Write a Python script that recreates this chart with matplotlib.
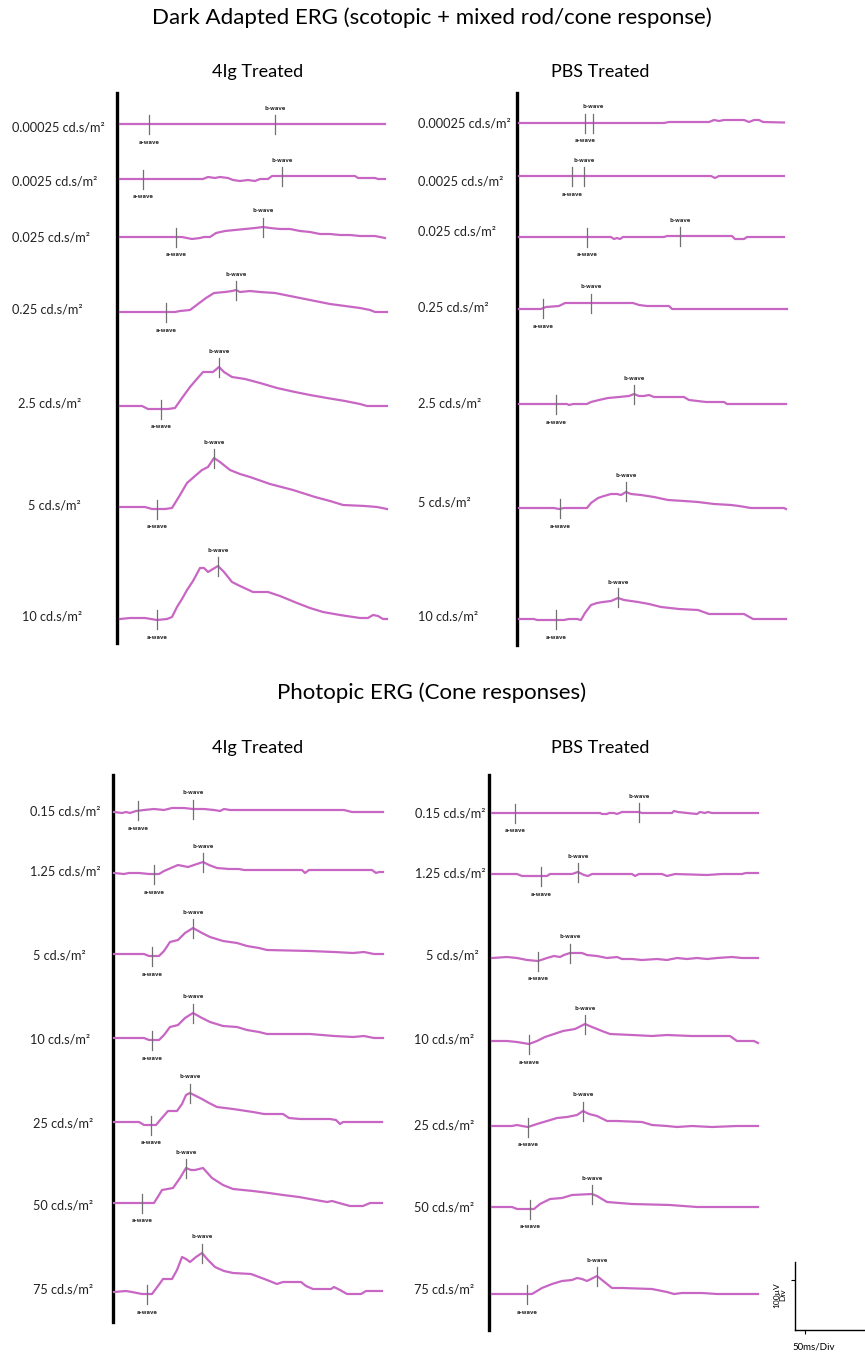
import numpy as np
import matplotlib
matplotlib.use("Agg")
import matplotlib.pyplot as plt

W, H = 865, 1357
TRACE = "#c866c4"
FONT = "Lato"

# ---- data: keypoints (time ms, amplitude uV) ----
scot_levels = ["0.00025", "0.0025", "0.025", "0.25", "2.5", "5", "10"]
phot_levels = ["0.15", "1.25", "5", "10", "25", "50", "75"]

scot_4ig = [
    [(0, 0), (265, 0)],
    [(0, 0), (83, 0), (88, 4), (95, 2), (100, 4), (108, 2), (113, -2), (120, -4), (128, -2), (135, -4),
     (140, 0), (148, 0), (152, 6), (235, 6), (238, 2), (255, 2), (258, 0), (265, 0)],
    [(0, 0), (62, 0), (72, -4), (80, -2), (84, 0), (90, 0), (96, 8), (105, 12), (115, 14), (125, 16),
     (135, 18), (143, 20), (150, 18), (160, 16), (170, 16), (180, 12), (190, 10), (200, 6), (210, 6),
     (220, 4), (230, 4), (240, 2), (255, 2), (265, -2)],
    [(0, 0), (55, 0), (60, 2), (70, 4), (78, 16), (86, 28), (94, 38), (105, 40), (112, 42), (116, 44),
     (120, 40), (130, 42), (140, 40), (155, 38), (165, 34), (180, 28), (195, 22), (210, 16), (225, 12),
     (240, 8), (250, 4), (255, 0), (267, 0)],
    [(0, 0), (22, 0), (28, -6), (48, -6), (55, -4), (62, 16), (70, 38), (76, 52), (83, 68), (93, 68),
     (99, 78), (104, 68), (112, 58), (125, 54), (140, 46), (157, 36), (175, 28), (190, 22), (207, 16),
     (225, 10), (240, 4), (247, 0), (267, 0)],
    [(0, 0), (25, 0), (32, -4), (45, -4), (52, -2), (60, 24), (67, 48), (75, 62), (82, 74), (88, 80),
     (94, 98), (100, 90), (110, 74), (120, 66), (130, 60), (150, 46), (173, 34), (195, 20), (210, 12),
     (223, 4), (245, 2), (257, 0), (267, -4)],
    [(0, 0), (10, 2), (25, 2), (37, -2), (47, 0), (52, 4), (57, 24), (62, 40), (67, 58), (73, 76),
     (80, 102), (84, 102), (88, 94), (93, 100), (98, 106), (104, 94), (112, 74), (120, 66), (133, 54),
     (148, 54), (160, 46), (177, 32), (190, 22), (203, 14), (220, 8), (240, 2), (248, 2), (253, 8),
     (258, 6), (263, 0), (267, 0)],
]
scot_4ig_a = [29, 23, 56, 46, 41, 37, 37]
scot_4ig_b = [155, 162, 143, 116, 99, 94, 98]

scot_pbs = [
    [(0, 0), (145, 0), (150, 2), (190, 2), (195, 6), (200, 4), (205, 6), (225, 6), (230, 2), (235, 6),
     (240, 6), (244, 2), (265, 1)],
    [(0, 0), (192, 0), (196, -4), (200, 0), (265, 0)],
    [(0, 0), (92, 0), (95, -4), (98, -2), (101, -4), (104, 0), (145, 0), (148, 2), (213, 2), (216, -4),
     (225, -4), (228, 0), (265, 0)],
    [(0, 0), (22, 0), (27, 4), (40, 6), (46, 12), (114, 12), (120, 8), (128, 6), (150, 6), (153, 0),
     (268, 0)],
    [(0, 0), (48, 0), (50, -2), (54, 0), (68, 0), (72, 4), (80, 8), (89, 12), (100, 14), (110, 16),
     (115, 20), (120, 16), (125, 16), (130, 18), (135, 14), (165, 14), (170, 8), (187, 4), (205, 4),
     (208, 0), (267, 0)],
    [(0, 0), (35, 0), (40, -2), (45, 0), (68, 0), (72, 10), (79, 20), (85, 24), (92, 28), (98, 28),
     (102, 26), (107, 32), (112, 28), (122, 26), (135, 22), (149, 16), (165, 14), (179, 12), (195, 8),
     (212, 6), (220, 4), (232, 0), (265, 0), (267, -2)],
    [(0, 0), (15, 0), (18, -2), (45, -2), (50, 0), (58, 0), (62, -2), (66, 12), (72, 28), (78, 32),
     (84, 34), (92, 36), (99, 42), (105, 38), (119, 34), (130, 30), (142, 24), (160, 20), (179, 18),
     (190, 10), (225, 10), (234, 0), (267, 0)],
]
scot_pbs_a = [66, 53, 68, 24, 37, 41, 37]
scot_pbs_b = [74, 65, 161, 72, 115, 107, 99]

phot_4ig = [
    [(0, 0), (8, -2), (12, 0), (16, -2), (22, 2), (30, 4), (40, 6), (50, 4), (58, 8), (70, 8), (79, 6),
     (90, 6), (100, 4), (106, 2), (110, 6), (116, 4), (230, 4), (238, 0), (269, 0)],
    [(0, 0), (10, -2), (15, 0), (25, 0), (35, -2), (45, -2), (50, 4), (57, 10), (64, 16), (69, 14),
     (74, 12), (80, 16), (89, 22), (95, 16), (103, 10), (115, 8), (125, 8), (130, 6), (188, 6), (191, 0),
     (195, 6), (258, 6), (262, 0), (265, 2), (269, 2)],
    [(0, 0), (30, 0), (35, -4), (45, -4), (50, 6), (56, 24), (64, 28), (71, 42), (79, 52), (88, 42),
     (96, 34), (109, 26), (123, 22), (133, 16), (145, 12), (153, 8), (196, 6), (220, 4), (239, 2),
     (250, 4), (260, 0), (269, 0)],
    [(0, 0), (30, 0), (35, -4), (45, -4), (50, 6), (56, 22), (64, 26), (71, 40), (79, 50), (88, 40),
     (96, 32), (109, 24), (123, 22), (133, 16), (145, 12), (153, 8), (196, 8), (220, 4), (239, 2),
     (250, 4), (260, 0), (269, 0)],
    [(0, 0), (25, 0), (30, -6), (42, -6), (47, 6), (54, 22), (63, 22), (68, 36), (72, 54), (76, 58),
     (82, 52), (88, 46), (95, 38), (103, 30), (119, 26), (139, 20), (150, 16), (169, 16), (175, 8),
     (186, 6), (216, 6), (222, 4), (226, -4), (229, 0), (268, 0)],
    [(0, 0), (40, 0), (45, 16), (48, 26), (59, 30), (66, 50), (72, 70), (77, 66), (81, 66), (89, 70),
     (98, 50), (109, 36), (119, 28), (139, 24), (155, 20), (169, 16), (185, 12), (196, 8), (213, 2),
     (218, 4), (225, 0), (236, -6), (249, -6), (256, 0), (268, 0)],
    [(0, 0), (12, 2), (18, 0), (28, -4), (38, -4), (44, 12), (49, 26), (58, 26), (63, 44), (68, 70),
     (72, 66), (76, 60), (82, 70), (88, 78), (94, 64), (101, 50), (110, 42), (119, 38), (137, 36),
     (145, 30), (153, 24), (163, 16), (169, 20), (187, 20), (192, 12), (199, 6), (217, 6), (220, 10),
     (226, 4), (233, -4), (247, -4), (252, 2), (268, 2)],
]
phot_4ig_a = [24, 40, 38, 38, 37, 28, 33]
phot_4ig_b = [79, 89, 79, 79, 76, 72, 88]

phot_pbs = [
    [(0, 0), (108, 0), (110, -2), (115, -2), (117, 0), (122, 0), (125, -2), (130, 2), (147, 2), (150, 0),
     (180, 0), (182, 4), (186, 2), (195, 0), (205, -2), (208, 2), (213, 0), (216, 2), (220, 0), (266, 0)],
    [(0, 0), (25, 0), (30, -4), (55, -4), (58, 0), (80, 0), (86, 4), (92, -2), (96, -4), (100, 0),
     (140, 0), (143, -4), (147, 0), (170, 0), (175, -4), (183, 0), (215, -2), (230, 0), (250, 0),
     (254, 2), (266, 2)],
    [(0, 0), (15, 2), (25, 0), (35, -4), (46, -6), (55, 0), (62, 4), (68, 2), (72, 6), (78, 10), (90, 10),
     (95, 6), (105, 4), (115, 0), (125, 2), (130, -2), (140, -2), (150, -4), (165, -2), (175, -4),
     (185, 0), (195, -2), (205, 0), (215, -2), (225, 0), (240, 2), (250, 0), (266, 0)],
    [(0, 0), (15, 0), (25, -2), (37, -6), (45, 0), (53, 8), (62, 14), (71, 20), (83, 24), (93, 34),
     (100, 28), (110, 20), (118, 14), (140, 12), (160, 10), (175, 12), (200, 10), (238, 10), (245, 0),
     (262, 0), (266, -4)],
    [(0, 0), (20, 0), (25, 2), (30, 0), (36, -2), (45, 4), (55, 10), (65, 16), (75, 18), (85, 22),
     (91, 30), (97, 24), (105, 20), (115, 10), (125, 10), (150, 8), (160, 2), (175, 0), (185, -2),
     (200, 0), (220, -2), (245, 0), (266, 0)],
    [(0, 0), (20, 0), (25, -4), (42, -4), (48, 6), (58, 16), (70, 18), (80, 24), (100, 26), (105, 22),
     (115, 10), (140, 6), (178, 4), (205, 0), (266, 0)],
    [(0, 0), (40, 0), (50, 12), (60, 20), (70, 26), (80, 28), (85, 32), (90, 30), (95, 26), (105, 36),
     (110, 28), (120, 12), (130, 12), (160, 10), (175, 4), (182, 0), (190, 2), (210, 2), (225, 0),
     (266, 0)],
]
phot_pbs_a = [23, 49, 46, 37, 36, 38, 35]
phot_pbs_b = [147, 86, 78, 93, 91, 100, 105]

# ---- layout (pixels in the 865x1357 image) ----
panels = [
    # traces, a, b, levels, trace x0, vline x, vline top/bottom, baselines, label x, label y
    (scot_4ig, scot_4ig_a, scot_4ig_b, scot_levels, 120, 117, 93, 643,
     [124, 179, 237, 312, 406, 507, 619], [12, 12, 12, 12, 18, 28, 22], [127, 182, 238, 310, 403, 505, 616]),
    (scot_pbs, scot_pbs_a, scot_pbs_b, scot_levels, 519, 517, 93, 645,
     [123, 176, 237, 309, 404, 508, 619], [418] * 7, [124, 182, 232, 307, 403, 503, 616]),
    (phot_4ig, phot_4ig_a, phot_4ig_b, phot_levels, 114, 113, 775, 1322,
     [812, 873, 954, 1038, 1122, 1203, 1292], [30, 30, 33, 30, 33, 33, 33], [812, 872, 955, 1040, 1123, 1205, 1290]),
    (phot_pbs, phot_pbs_a, phot_pbs_b, phot_levels, 492, 489, 775, 1330,
     [813, 874, 958, 1041, 1126, 1207, 1294], [415, 415, 426, 414, 414, 414, 414], [813, 874, 955, 1040, 1125, 1207, 1290]),
]


def px_rect(x, y, w, h):
    return [x / W, 1 - (y + h) / H, w / W, h / H]


def fig_text(x, y, s, **kw):
    fig.text(x / W, 1 - y / H, s, **kw)


fig = plt.figure(figsize=(W / 100, H / 100), dpi=100)
fig.patch.set_facecolor("white")

fig_text(432, 18, "Dark Adapted ERG (scotopic + mixed rod/cone response)", ha="center", va="center",
         fontsize=16, family=FONT)
fig_text(432, 693, "Photopic ERG (Cone responses)", ha="center", va="center", fontsize=16, family=FONT)
for y in (72, 748):
    fig_text(258, y, "4Ig Treated", ha="center", va="center", fontsize=13, family=FONT)
    fig_text(600, y, "PBS Treated", ha="center", va="center", fontsize=13, family=FONT)

for traces, a_t, b_t, levels, x0, vx, vtop, vbot, bases, lx, ly in panels:
    # black vertical axis line of each panel
    vax = fig.add_axes(px_rect(vx, vtop, 2, vbot - vtop))
    for side in ("top", "right", "bottom"):
        vax.spines[side].set_visible(False)
    vax.spines["left"].set_linewidth(2.4)
    vax.set_xticks([])
    vax.set_yticks([])
    vax.patch.set_alpha(0)

    for i, tr in enumerate(traces):
        base = bases[i]
        ax = fig.add_axes(px_rect(x0, base - 60, 272, 75))
        ax.set_xlim(0, 272)
        ax.set_ylim(-30, 120)
        ax.axis("off")
        t = np.array([p[0] for p in tr], dtype=float)
        v = np.array([p[1] for p in tr], dtype=float)
        ax.plot(t, v, color=TRACE, lw=1.6, solid_joinstyle="round", clip_on=False)

        # a-wave / b-wave markers
        for tm, lab, off in ((a_t[i], "a-wave", -36), (b_t[i], "b-wave", 32)):
            yv = np.interp(tm, t, v)
            ax.plot([tm, tm], [yv - 19, yv + 19], color="#707070", lw=0.9, clip_on=False)
            ax.text(tm, yv + off, lab, ha="center", va="center", fontsize=3.8,
                    color="#333333", family="DejaVu Sans", fontweight="bold")

        fig_text(lx[i], ly[i], levels[i] + " cd.s/m²", ha="left", va="center", fontsize=9.2,
                 family=FONT, color="#222222")

# scale bar
sax = fig.add_axes(px_rect(795, 1262, 70, 68))
sax.set_xlim(0, 70)
sax.set_ylim(0, 136)
sax.spines["top"].set_visible(False)
sax.spines["right"].set_visible(False)
sax.spines["left"].set_linewidth(1.0)
sax.spines["bottom"].set_linewidth(1.0)
sax.set_xticks([10])
sax.set_yticks([100])
sax.set_xticklabels([])
sax.set_yticklabels([])
sax.tick_params(length=3, width=0.8)
sax.patch.set_alpha(0)
fig_text(780, 1295, "100µV\nDiv", rotation=90, ha="center", va="center", fontsize=6, family=FONT,
         linespacing=0.9)
fig_text(814, 1347, "50ms/Div", ha="center", va="center", fontsize=7, family=FONT)

fig.savefig("out.png", dpi=100, facecolor="white")
